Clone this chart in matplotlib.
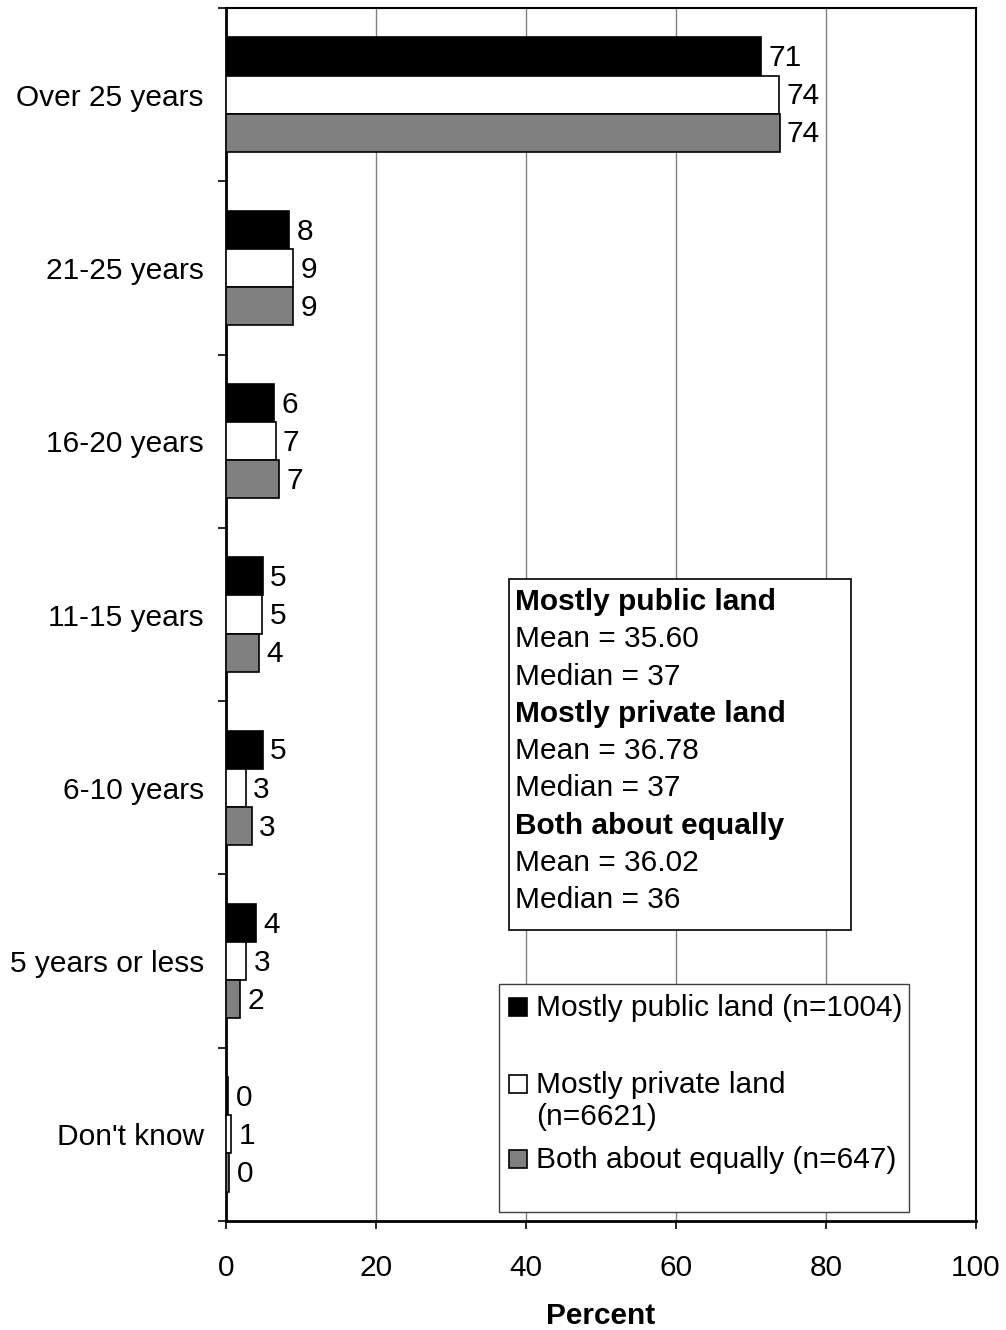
import matplotlib.pyplot as plt
from matplotlib.patches import Rectangle
import numpy as np

plt.rcParams['font.family'] = ['Liberation Sans', 'DejaVu Sans']

# Data
categories = ['Over 25 years', '21-25 years', '16-20 years', '11-15 years',
              '6-10 years', '5 years or less', "Don't know"]
public_land = [71.3, 8.4, 6.4, 4.9, 4.9, 4.0, 0.3]
private_land = [73.7, 8.9, 6.6, 4.8, 2.6, 2.7, 0.7]
both_equally = [73.8, 8.9, 7.1, 4.4, 3.4, 1.9, 0.4]
series_names = ['Mostly public land (n=1004)', 'Mostly private land\n(n=6621)',
                'Both about equally (n=647)']
stats_lines = [('Mostly public land', True), ('Mean = 35.60', False), ('Median = 37', False),
               ('Mostly private land', True), ('Mean = 36.78', False), ('Median = 37', False),
               ('Both about equally', True), ('Mean = 36.02', False), ('Median = 36', False)]

W, H = 1006, 1330
fig = plt.figure(figsize=(W / 100, H / 100), dpi=100)
ax = fig.add_axes([226 / W, 1 - 1221 / H, 750 / W, 1213 / H])

fs = 21.5
y = np.arange(len(categories))
h = 0.22
colors = ['black', 'white', '#808080']
series = [public_land, private_land, both_equally]

for i, (vals, col) in enumerate(zip(series, colors)):
    pos = y + (i - 1) * h
    ax.barh(pos, vals, height=h, color=col, edgecolor='black', linewidth=1.2, zorder=3)
    for p, v in zip(pos, vals):
        ax.text(v + 1.0, p + 0.01, f'{round(v):d}', va='center', ha='left', fontsize=fs, zorder=4)

ax.set_xlim(0, 100)
ax.set_ylim(len(categories) - 0.5, -0.5)
ax.set_xticks(np.arange(0, 101, 20))
ax.tick_params(axis='x', labelsize=fs, length=6, width=1.2, direction='out', pad=18)
ax.set_yticks(np.arange(-0.5, len(categories), 1.0))
ax.set_yticklabels([])
ax.set_yticks(y, minor=True)
ax.set_yticklabels(categories, minor=True, fontsize=fs)
ax.tick_params(axis='y', which='major', length=6, width=1.2, direction='out')
ax.tick_params(axis='y', which='minor', length=0, pad=16)

ax.grid(axis='x', color='#808080', linewidth=1.0, zorder=0)
for s in ax.spines.values():
    s.set_linewidth(1.5)
ax.spines['left'].set_linewidth(2)
ax.spines['bottom'].set_linewidth(2)

ax.set_xlabel('Percent', fontsize=fs, fontweight='bold', labelpad=14)


def frac(px, py):
    return (px - 226) / 750, (1221 - py) / 1213


# Stats box
x0, y0 = frac(509, 930)
x1, y1 = frac(851, 579)
ax.add_patch(Rectangle((x0, y0), x1 - x0, y1 - y0, transform=ax.transAxes,
                       facecolor='white', edgecolor='black', linewidth=1.2, zorder=5))
for k, (txt, bold) in enumerate(stats_lines):
    tx, ty = frac(515, 602 + k * 37.3)
    ax.text(tx, ty, txt, transform=ax.transAxes, fontsize=fs, va='center', ha='left',
            fontweight='bold' if bold else 'normal', zorder=6)

# Legend box
x0, y0 = frac(499, 1212)
x1, y1 = frac(909, 984)
ax.add_patch(Rectangle((x0, y0), x1 - x0, y1 - y0, transform=ax.transAxes,
                       facecolor='white', edgecolor='#404040', linewidth=1.0, zorder=5))
marker_y = [1007, 1084, 1159]
text_y = [1008, 1101, 1160]
for col, name, my, ty in zip(colors, series_names, marker_y, text_y):
    mx, myf = frac(509, my + 9)
    mw = 18 / 750
    mh = 18 / 1213
    ax.add_patch(Rectangle((mx, myf), mw, mh, transform=ax.transAxes,
                           facecolor=col, edgecolor='black', linewidth=1.2, zorder=6))
    tx, tyf = frac(536, ty)
    ax.text(tx, tyf, name, transform=ax.transAxes, fontsize=fs, va='center', ha='left',
            linespacing=1.15, zorder=6)

fig.savefig('out.png', dpi=100)
